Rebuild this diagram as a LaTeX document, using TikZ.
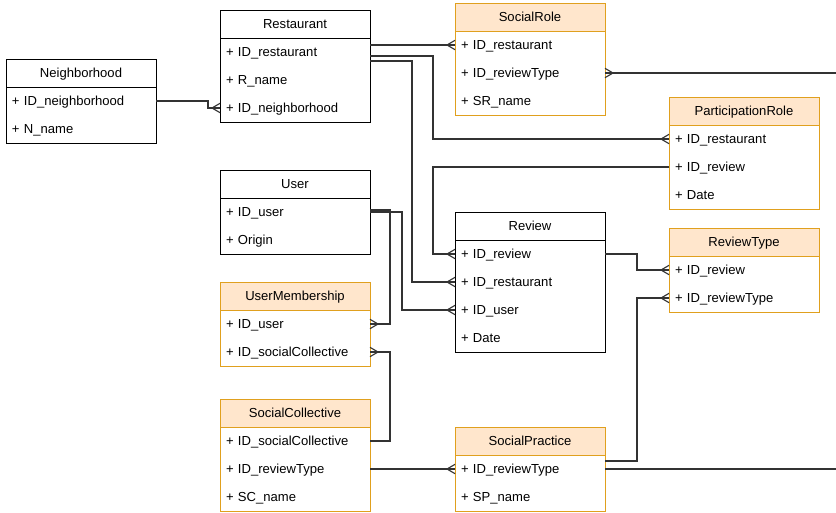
\documentclass[tikz,border=0pt]{standalone}
\usepackage{fontspec}
\setmainfont{Liberation Sans}
\usepackage{tikz}
\usetikzlibrary{arrows.meta,positioning,fit}
\usepackage{xcolor}
\definecolor{linegray}{RGB}{51,51,51}
\definecolor{roleorange}{RGB}{224,160,30}
\definecolor{rolefill}{RGB}{255,230,204}

% crow's foot ("many" end)
\pgfdeclarearrow{
  name = Crow,
  parameters = {\the\pgfarrowlength,\the\pgfarrowwidth},
  setup code = {
    \pgfarrowssettipend{0pt}
    \pgfarrowssetlineend{0pt}
    \pgfarrowssetbackend{-\pgfarrowlength}
    \pgfarrowssetvisualbackend{-\pgfarrowlength}
    \pgfarrowsupperhullpoint{0pt}{.5\pgfarrowwidth}
    \pgfarrowsupperhullpoint{-\pgfarrowlength}{0pt}
    \pgfarrowssavethe\pgfarrowlength
    \pgfarrowssavethe\pgfarrowwidth
  },
  drawing code = {
    \pgfpathmoveto{\pgfqpoint{0pt}{.5\pgfarrowwidth}}
    \pgfpathlineto{\pgfqpoint{-\pgfarrowlength}{0pt}}
    \pgfpathlineto{\pgfqpoint{0pt}{-.5\pgfarrowwidth}}
    \pgfusepathqstroke
  },
  defaults = {length=6pt, width=7pt}
}

\begin{document}
\begin{tikzpicture}[
      x=0.75pt, y=-0.75pt,
      every node/.style={font=\fontsize{9.8}{11}\selectfont,
                         text height=7pt, text depth=0.5pt},
      entity/.style={rectangle, draw=black, fill=white, line width=0.75pt,
                     minimum width=112.5pt, minimum height=21pt,
                     inner sep=0pt, outer sep=0pt},
      assoc/.style={entity, draw=roleorange, fill=rolefill},
      attr/.style={rectangle, minimum width=112.5pt, minimum height=21pt,
                   text width=103.5pt, inner xsep=4.5pt, inner ysep=0pt,
                   outer sep=0pt, align=left},
      frame/.style={rectangle, draw=black, line width=0.75pt,
                    inner sep=0pt, outer sep=0pt},
      oframe/.style={frame, draw=roleorange},
      rel/.style={-{Crow}, draw=linegray, line width=0.85pt},
    ]
    \useasboundingbox (0,0) rectangle (836,512);
    \coordinate (rim) at (836,0);

    % Restaurant
    \node[entity] (res) at (295,24) {Restaurant};
    \node[attr, below=0pt of res]      (res-id)   {+ ID\_restaurant};
    \node[attr, below=0pt of res-id]   (res-name) {+ R\_name};
    \node[attr, below=0pt of res-name] (res-nb)   {+ ID\_neighborhood};
    \node[frame, fit=(res-id)(res-nb)] (res-body) {};

    % Neighborhood
    \node[entity, left=48pt of res, yshift=-36.75pt] (nb) {Neighborhood};
    \node[attr, below=0pt of nb]    (nb-id)   {+ ID\_neighborhood};
    \node[attr, below=0pt of nb-id] (nb-name) {+ N\_name};
    \node[frame, fit=(nb-id)(nb-name)] (nb-body) {};

    % SocialRole
    \node[assoc, right=63.75pt of res, yshift=5.25pt] (sr) {SocialRole};
    \node[attr, below=0pt of sr]    (sr-id)   {+ ID\_restaurant};
    \node[attr, below=0pt of sr-id] (sr-rt)   {+ ID\_reviewType};
    \node[attr, below=0pt of sr-rt] (sr-name) {+ SR\_name};
    \node[oframe, fit=(sr-id)(sr-name)] (sr-body) {};

    % ParticipationRole
    \node[assoc, right=48pt of sr, yshift=-70.5pt] (pr) {ParticipationRole};
    \node[attr, below=0pt of pr]     (pr-res)  {+ ID\_restaurant};
    \node[attr, below=0pt of pr-res] (pr-rev)  {+ ID\_review};
    \node[attr, below=0pt of pr-rev] (pr-date) {+ Date};
    \node[oframe, fit=(pr-res)(pr-date)] (pr-body) {};

    % User
    \node[entity, below=36pt of res-nb] (usr) {User};
    \node[attr, below=0pt of usr]    (usr-id)  {+ ID\_user};
    \node[attr, below=0pt of usr-id] (usr-org) {+ Origin};
    \node[frame, fit=(usr-id)(usr-org)] (usr-body) {};

    % Review
    \node[entity, right=63.75pt of usr, yshift=-31.5pt] (rev) {Review};
    \node[attr, below=0pt of rev]     (rev-id)   {+ ID\_review};
    \node[attr, below=0pt of rev-id]  (rev-res)  {+ ID\_restaurant};
    \node[attr, below=0pt of rev-res] (rev-usr)  {+ ID\_user};
    \node[attr, below=0pt of rev-usr] (rev-date) {+ Date};
    \node[frame, fit=(rev-id)(rev-date)] (rev-body) {};

    % ReviewType
    \node[assoc, right=48pt of rev, yshift=-12pt] (rt) {ReviewType};
    \node[attr, below=0pt of rt]     (rt-rev) {+ ID\_review};
    \node[attr, below=0pt of rt-rev] (rt-rt)  {+ ID\_reviewType};
    \node[oframe, fit=(rt-rev)(rt-rt)] (rt-body) {};

    % UserMembership
    \node[assoc, below=21pt of usr-org] (um) {UserMembership};
    \node[attr, below=0pt of um]     (um-usr) {+ ID\_user};
    \node[attr, below=0pt of um-usr] (um-sc)  {+ ID\_socialCollective};
    \node[oframe, fit=(um-usr)(um-sc)] (um-body) {};

    % SocialCollective
    \node[assoc, below=24.75pt of um-sc] (sc) {SocialCollective};
    \node[attr, below=0pt of sc]    (sc-id)   {+ ID\_socialCollective};
    \node[attr, below=0pt of sc-id] (sc-rt)   {+ ID\_reviewType};
    \node[attr, below=0pt of sc-rt] (sc-name) {+ SC\_name};
    \node[oframe, fit=(sc-id)(sc-name)] (sc-body) {};

    % SocialPractice
    \node[assoc, right=63.75pt of sc, yshift=-21pt] (sp) {SocialPractice};
    \node[attr, below=0pt of sp]    (sp-rt)   {+ ID\_reviewType};
    \node[attr, below=0pt of sp-rt] (sp-name) {+ SP\_name};
    \node[oframe, fit=(sp-rt)(sp-name)] (sp-body) {};

    % Neighborhood -> Restaurant
    \draw[rel] (nb-id.east) -- ++(52,0) |- (res-nb.west);

    % Restaurant -> SocialRole, ParticipationRole, Review
    \draw[rel] (res-id.east |- sr-id.west) -- (sr-id.west);
    \draw[rel] ([yshift=-3pt]res-id.east) -- ++(63,0) |- (pr-res.west);
    \draw[rel] ([yshift=-6.75pt]res-id.east) -- ++(42,0) |- (rev-res.west);

    % ParticipationRole -> Review
    \draw[rel] (pr-rev.west) -- ++(-236,0) |- (rev-id.west);

    % User -> UserMembership, Review
    \draw[rel] ([yshift=1.5pt]usr-id.east) -- ++(20,0) |- (um-usr.east);
    \draw[rel] (usr-id.east) -- ++(32,0) |- (rev-usr.west);

    % SocialCollective -> UserMembership, SocialPractice
    \draw[rel] (sc-id.east) -- ++(20,0) |- (um-sc.east);
    \draw[rel] (sc-rt.east) -- (sp-rt.west);

    % Review, SocialPractice -> ReviewType
    \draw[rel] (rev-id.east) -- ++(32,0) |- (rt-rev.west);
    \draw[rel] ([yshift=6pt]sp-rt.east) -- ++(32,0) |- (rt-rt.west);

    % lines running off the right edge
    \draw[rel] (sr-rt.east -| rim) -- (sr-rt.east);
    \draw[rel, -] (sp-rt.east) -- (sp-rt.east -| rim);
  \end{tikzpicture}
\end{document}
